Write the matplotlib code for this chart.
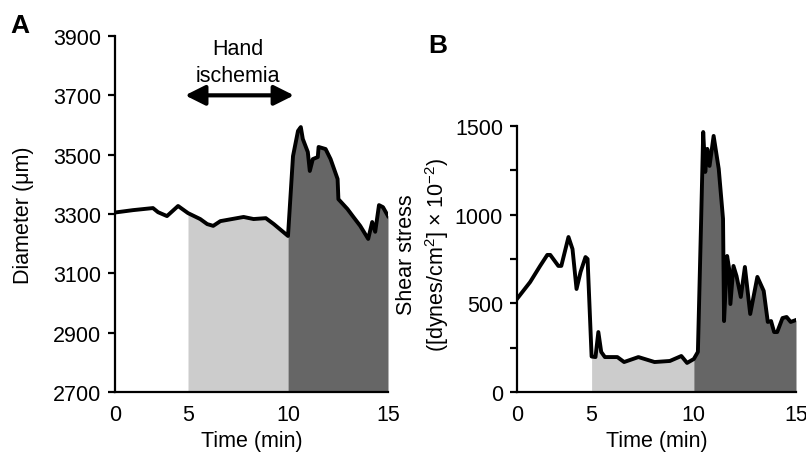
import numpy as np
import matplotlib
matplotlib.use("Agg")
import matplotlib.pyplot as plt

plt.rcParams["font.family"] = ["Liberation Sans", "DejaVu Sans"]
plt.rcParams["mathtext.fontset"] = "custom"
plt.rcParams["mathtext.rm"] = "Liberation Sans"
plt.rcParams["mathtext.it"] = "Liberation Sans:italic"

# Panel A: brachial artery diameter (um) vs time (min)
time_a = [0, 1.23, 2.60, 2.95, 3.56, 4.32, 5.0, 5.61, 5.96, 6.26, 6.62, 7.78, 8.28,
          8.89, 9.29, 10.0, 10.25, 10.50, 10.64, 10.74, 10.99, 11.09, 11.24, 11.49,
          11.53, 11.88, 12.13, 12.48, 12.52, 12.97, 13.27, 13.61, 14.01, 14.21,
          14.36, 14.55, 14.75, 15.0]
diam_a = [3305, 3313, 3320, 3306, 3293, 3327, 3303, 3283, 3266, 3260, 3276, 3290,
          3283, 3286, 3266, 3226, 3495, 3580, 3593, 3553, 3509, 3445, 3485, 3492,
          3526, 3519, 3485, 3418, 3350, 3317, 3290, 3260, 3216, 3273, 3240, 3330,
          3323, 3293]

# Panel B: shear stress (dynes/cm2 x 10^-2) vs time (min)
time_b = [0, 0.88, 1.55, 2.03, 2.23, 2.77, 2.97, 3.45, 3.72, 3.99, 4.26, 4.59, 4.73,
          5.0, 5.19, 5.33, 5.47, 5.65, 6.26, 6.59, 7.29, 8.08, 8.83, 9.39, 9.67,
          10.0, 10.20, 10.36, 10.46, 10.56, 10.66, 10.77, 10.97, 11.22, 11.43,
          11.48, 11.63, 11.73, 11.79, 11.94, 12.09, 12.30, 12.50, 12.76, 13.11,
          13.42, 13.62, 13.78, 13.93, 14.08, 14.34, 14.54, 14.74, 15.0]
shear_b = [525, 620, 711, 773, 773, 711, 711, 874, 806, 581, 677, 761, 750,
           200, 197, 338, 226, 197, 197, 169, 197, 169, 175, 203, 164,
           186, 226, 976, 1466, 1241, 1371, 1275, 1444, 1258, 976,
           400, 767, 694, 496, 711, 654, 536, 705, 440, 649,
           570, 395, 400, 338, 338, 417, 423, 395, 406]

time_ticks = [0, 5, 10, 15]
diam_ticks = [2700, 2900, 3100, 3300, 3500, 3700, 3900]
shear_ticks = [0, 250, 500, 750, 1000, 1250, 1500]
shear_labels = ["0", "", "500", "", "1000", "", "1500"]

# the baseline (0-5 min) is drawn compressed in the original figure
brk_t = [0, 5, 10, 15]
brk_x = [0, 3.65, 8.65, 13.65]


def fwd(t):
    return np.interp(t, brk_t, brk_x)


def inv(x):
    return np.interp(x, brk_x, brk_t)


def style_axis(ax, ymin, ymax, yticks, ylabels=None):
    ax.set_xscale("function", functions=(fwd, inv))
    ax.set_xlim(0, 15)
    ax.set_ylim(ymin, ymax)
    ax.set_xticks(time_ticks)
    ax.set_yticks(yticks)
    if ylabels is not None:
        ax.set_yticklabels(ylabels)
    ax.spines[["top", "right"]].set_visible(False)
    ax.spines[["left", "bottom"]].set_linewidth(1.6)
    ax.tick_params(axis="y", length=5, width=1.6, labelsize=15.5, pad=5)
    ax.tick_params(axis="x", length=0, labelsize=15.5, pad=9)
    ax.set_xlabel("Time (min)", fontsize=15.5, labelpad=3)


def draw_trace(ax, t, y, ymin):
    t = np.array(t)
    y = np.array(y)
    ax.fill_between(t, y, ymin, where=(t >= 5) & (t <= 10), color="#cccccc", lw=0)
    ax.fill_between(t, y, ymin, where=(t >= 10), color="#666666", lw=0)
    ax.plot(t, y, color="black", lw=2.8, solid_joinstyle="round", zorder=3)


fig = plt.figure(figsize=(8.06, 4.56), dpi=100)
ax_a = fig.add_axes([115 / 806, 1 - 393 / 456, 273 / 806, 356 / 456])
ax_b = fig.add_axes([517 / 806, 1 - 393 / 456, 279 / 806, 266 / 456])

draw_trace(ax_a, time_a, diam_a, 2700)
style_axis(ax_a, 2700, 3900, diam_ticks)
ax_a.set_ylabel("Diameter (μm)", fontsize=15.5)
ax_a.yaxis.set_label_coords(-0.295, 0.5)

ax_a.annotate("", xy=(4.8, 3700), xytext=(10.3, 3700),
              arrowprops=dict(arrowstyle="<|-|>,head_length=1.2,head_width=0.6",
                              color="black", lw=3, shrinkA=0, shrinkB=0),
              annotation_clip=False)
ax_a.text(7.5, 3812, "Hand\nischemia", ha="center", va="center", fontsize=15.5,
          linespacing=1.4)

draw_trace(ax_b, time_b, shear_b, 0)
style_axis(ax_b, 0, 1500, shear_ticks, shear_labels)
ax_b.set_ylabel("Shear stress\n([dynes/cm$^{2}$] × 10$^{-2}$)", fontsize=15.5,
                linespacing=1.3)
ax_b.yaxis.set_label_coords(-0.235, 0.52)

fig.text(10 / 806, 1 - 26 / 456, "A", fontsize=19, weight="bold", va="center")
fig.text(428 / 806, 1 - 46 / 456, "B", fontsize=19, weight="bold", va="center")

fig.savefig("out.png", dpi=100)
